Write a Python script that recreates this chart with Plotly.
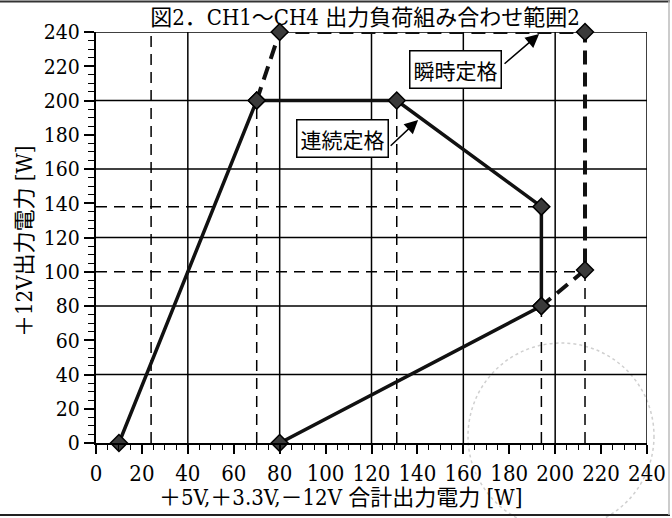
import plotly.graph_objects as go

# ---- data ----
cont_x = [10, 70, 131, 194, 194, 80]        # 連続定格 (continuous rating)
cont_y = [0, 200, 200, 138, 80, 0]
inst_x = [70, 80, 213, 213, 194]            # 瞬時定格 (instantaneous rating)
inst_y = [200, 240, 240, 101, 80]
grid_vals = [40, 80, 120, 160, 200, 240]
guide_v_x = [24, 70, 131, 194, 213]
guide_v_top = [240, 200, 200, 80, 101]
guide_h_y = [138, 100]
guide_h_right = [194, 213]
x_ticks = list(range(0, 241, 20))
y_ticks = list(range(0, 241, 20))

NUM_FONT = "DejaVu Serif Condensed, Liberation Serif, Noto Sans CJK JP, serif"
JP_FONT = "DejaVu Serif Condensed, Noto Sans CJK JP, sans-serif"

fig = go.Figure()

# continuous rating polygon
fig.add_trace(go.Scatter(
    x=cont_x, y=cont_y, mode="lines+markers",
    line=dict(color="#111111", width=3.5),
    marker=dict(symbol="diamond", size=13, color="#3a3a3a",
                line=dict(color="#000000", width=1.5)),
    cliponaxis=False, showlegend=False, name="連続定格"))

# instantaneous rating polyline
fig.add_trace(go.Scatter(
    x=inst_x, y=inst_y, mode="lines+markers",
    line=dict(color="#111111", width=4, dash="14px,8px"),
    marker=dict(symbol="diamond", size=13, color="#3a3a3a",
                line=dict(color="#000000", width=1.5)),
    cliponaxis=False, showlegend=False, name="瞬時定格"))

shapes = []
# solid grid every 40
for g in grid_vals:
    shapes.append(dict(type="line", xref="x", yref="y", x0=g, x1=g, y0=0, y1=240,
                       line=dict(color="black", width=1.5), layer="below"))
    shapes.append(dict(type="line", xref="x", yref="y", x0=0, x1=240, y0=g, y1=g,
                       line=dict(color="black", width=1.5), layer="below"))
# dashed guide lines
for gx, top in zip(guide_v_x, guide_v_top):
    shapes.append(dict(type="line", xref="x", yref="y", x0=gx, x1=gx, y0=0, y1=top,
                       line=dict(color="black", width=1.5, dash="11px,7px"), layer="below"))
for gy, right in zip(guide_h_y, guide_h_right):
    shapes.append(dict(type="line", xref="x", yref="y", x0=0, x1=right, y0=gy, y1=gy,
                       line=dict(color="black", width=1.5, dash="11px,7px"), layer="below"))
# faint stamp circle (scan artefact)
shapes.append(dict(type="circle", xref="paper", yref="paper",
                   x0=(468 - 96) / 551, x1=(654 - 96) / 551,
                   y0=(443 - 529) / 411, y1=(443 - 343) / 411,
                   line=dict(color="#d0d0d0", width=1.5, dash="dot"), layer="below"))
# page frame lines
shapes.append(dict(type="line", xref="paper", yref="paper",
                   x0=-96 / 551, x1=574 / 551, y0=(443 - 1.5) / 411, y1=(443 - 1.5) / 411,
                   line=dict(color="#333333", width=2)))
shapes.append(dict(type="line", xref="paper", yref="paper",
                   x0=-96 / 551, x1=574 / 551, y0=(443 - 515) / 411, y1=(443 - 515) / 411,
                   line=dict(color="#222222", width=2)))
shapes.append(dict(type="line", xref="paper", yref="paper",
                   x0=573 / 551, x1=573 / 551, y0=(443 - 1) / 411, y1=(443 - 515) / 411,
                   line=dict(color="#bbbbbb", width=1.5)))

annotations = [
    # label boxes
    dict(x=107.4, y=177.8, xref="x", yref="y", text="連続定格", showarrow=False,
         font=dict(family="Noto Sans CJK JP", size=21, color="black"),
         bgcolor="white", bordercolor="black", borderwidth=1.5, borderpad=3),
    dict(x=156.4, y=218.3, xref="x", yref="y", text="瞬時定格", showarrow=False,
         font=dict(family="Noto Sans CJK JP", size=21, color="black"),
         bgcolor="white", bordercolor="black", borderwidth=1.5, borderpad=3),
    # arrows
    dict(x=140.3, y=188.6, xref="x", yref="y", ax=127.7, ay=172.8, axref="x", ayref="y",
         text="", showarrow=True, arrowhead=2, arrowsize=1.8, arrowwidth=1.5,
         arrowcolor="black"),
    dict(x=193.0, y=238.8, xref="x", yref="y", ax=177.3, ay=220.7, axref="x", ayref="y",
         text="", showarrow=True, arrowhead=2, arrowsize=1.8, arrowwidth=1.5,
         arrowcolor="black"),
    # x-axis title
    dict(x=(340 - 96) / 551, y=(443 - 497) / 411, xref="paper", yref="paper",
         text="＋5V,＋3.3V,－12V 合計出力電力 [W]", showarrow=False,
         font=dict(family=JP_FONT, size=22, color="black"),
         xanchor="center", yanchor="middle"),
    # y-axis title
    dict(x=(25 - 96) / 551, y=(443 - 241) / 411, xref="paper", yref="paper",
         text="＋12V出力電力 [W]", showarrow=False, textangle=-90,
         font=dict(family=JP_FONT, size=22, color="black"),
         xanchor="center", yanchor="middle"),
]

fig.update_layout(
    width=672, height=518,
    margin=dict(l=96, r=25, t=32, b=75, autoexpand=False),
    paper_bgcolor="white", plot_bgcolor="white",
    title=dict(text="図2．CH1～CH4 出力負荷組み合わせ範囲2",
               x=(365 - 96) / 551, xref="paper", xanchor="center",
               y=1 - 17 / 518, yanchor="middle",
               font=dict(family=JP_FONT, size=22, color="black")),
    shapes=shapes,
    annotations=annotations,
    xaxis=dict(range=[0, 240], tickmode="array", tickvals=x_ticks, automargin=False,
               ticks="outside", ticklen=9, tickwidth=1.5, tickcolor="black",
               showgrid=False, zeroline=False, showline=True, linecolor="black",
               linewidth=2, mirror=False,
               tickfont=dict(family=NUM_FONT, size=22, color="black"),
               ticklabelstandoff=1,
               minor=dict(dtick=5, ticks="outside", ticklen=5, tickwidth=1.2,
                          tickcolor="black", showgrid=False)),
    yaxis=dict(range=[0, 240], tickmode="array", tickvals=y_ticks, automargin=False,
               ticks="outside", ticklen=10, tickwidth=1.5, tickcolor="black",
               showgrid=False, zeroline=False, showline=True, linecolor="black",
               linewidth=2, mirror=False,
               tickfont=dict(family=NUM_FONT, size=21, color="black"),
               minor=dict(dtick=5, ticks="outside", ticklen=6, tickwidth=1.2,
                          tickcolor="black", showgrid=False)),
)

fig.write_html("out.html", config={"displayModeBar": False},
               post_script="document.body.style.margin='0';document.body.style.padding='0';")
